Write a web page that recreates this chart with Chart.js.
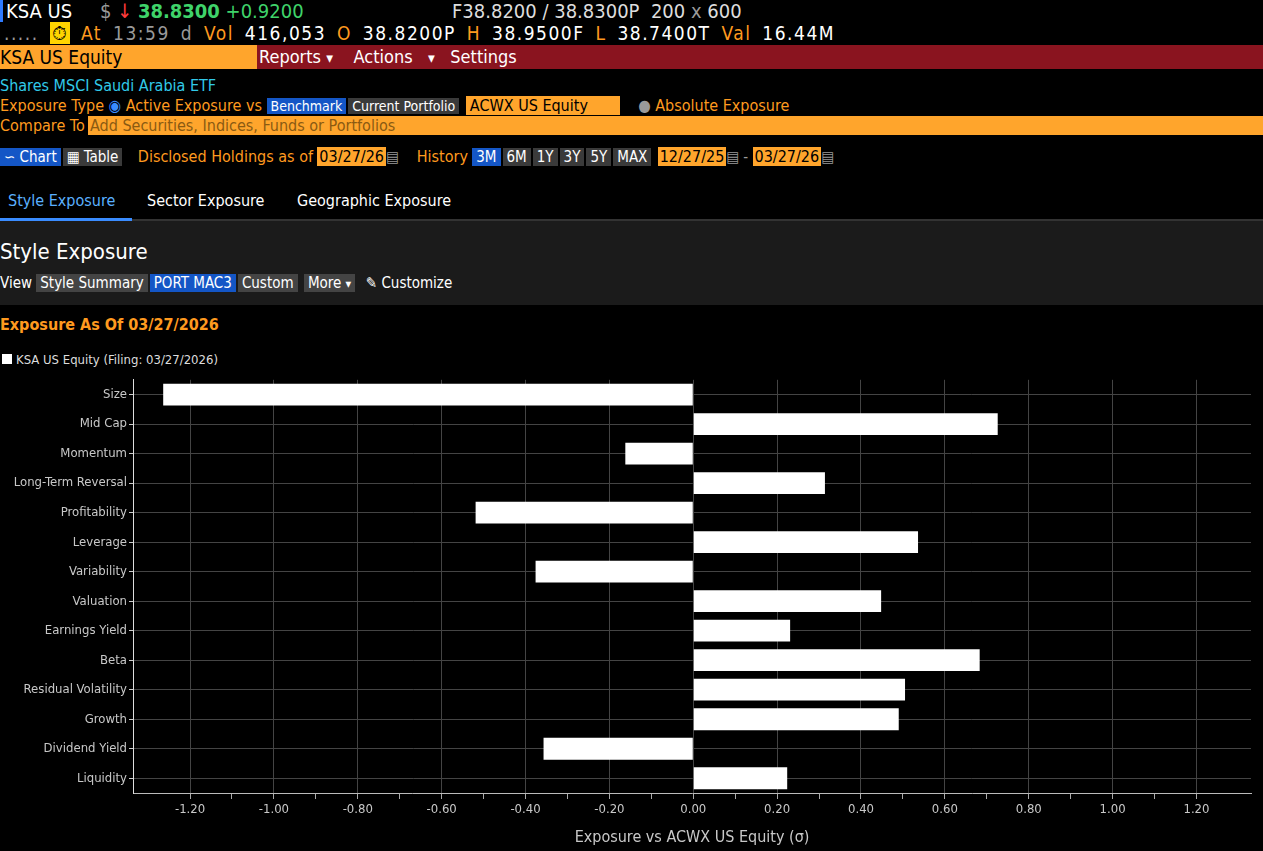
<!DOCTYPE html>
<html><head><meta charset="utf-8">
<script src="https://cdn.jsdelivr.net/npm/chart.js@4"></script>
<style>
body{margin:0;background:#000;width:1263px;height:851px;overflow:hidden;position:relative;font-family:"Liberation Sans Narrow","DejaVu Sans Condensed","Roboto",sans-serif;color:#fff}
.a{position:absolute;white-space:nowrap}
.o{color:#ff9a1f}.w{color:#fff}.g{color:#9a9a9a}.gr{color:#3fd36a}
.btn{display:inline-block;padding:0 4px;background:#3a3a3a;color:#fff;margin-right:2px}
.blue{background:#1456c6}
.ob{background:#ffa52c;color:#000}
</style></head><body>
<div class="a" style="left:0;top:0;width:3px;height:22px;background:#2f7bff"></div>
<div class="a" style="left:6px;top:0;font-size:20px;line-height:22px">KSA US <span class="g" style="margin-left:22px">$</span> <span style="color:#ff3b3b">&#8595;</span> <b class="gr">38.8300</b> <span class="gr">+0.9200</span></div>
<div class="a" style="left:452px;top:0;font-size:20px;line-height:22px;color:#ddd">F38.8200 / 38.8300P&nbsp; 200 <span class="g">x</span> 600</div>
<div class="a" style="left:4px;top:22px;font-size:19px;line-height:23px;letter-spacing:1.5px;word-spacing:4px"><span class="g">.....</span> <span style="background:#ffd400;color:#000;padding:0 2px">&#9201;</span> <span class="o">At</span> <span class="g">13:59 d</span> <span class="o">Vol</span> 416,053 <span class="o">O</span> 38.8200P <span class="o">H</span> 38.9500F <span class="o">L</span> 38.7400T <span class="o">Val</span> 16.44M</div>
<div class="a" style="left:0;top:45px;width:1263px;height:24px;background:#8a141f"></div>
<div class="a ob" style="left:0;top:45px;width:257px;height:24px;font-size:19px;line-height:24px;color:#000">KSA US Equity</div>
<div class="a" style="left:259px;top:45px;font-size:18px;line-height:24px">Reports <small>&#9662;</small>&nbsp;&nbsp;&nbsp;&nbsp;Actions &nbsp;&nbsp;<small>&#9662;</small>&nbsp;&nbsp;&nbsp;Settings</div>
<div class="a" style="left:0;top:76px;font-size:16px;color:#31c9e8">Shares MSCI Saudi Arabia ETF</div>
<div class="a o" style="left:0;top:96px;font-size:16px">Exposure Type <span style="color:#3a8cff">&#9673;</span> Active Exposure vs <span class="btn blue" style="font-size:14px">Benchmark</span><span class="btn" style="font-size:14px">Current Portfolio</span> <span class="ob" style="display:inline-block;width:150px;padding-left:4px">ACWX US Equity</span>&nbsp;&nbsp;&nbsp; <span class="g">&#9679;</span> Absolute Exposure</div>
<div class="a o" style="left:0;top:116px;font-size:16px">Compare To</div>
<div class="a" style="left:88px;top:116px;width:1175px;height:19px;background:#ffa52c;color:#8a5a12;font-size:16px;line-height:19px;padding-left:2px">Add Securities, Indices, Funds or Portfolios</div>
<div class="a" style="left:0;top:147px;font-size:15px"><span class="btn blue">&#8765; Chart</span><span class="btn">&#9638; Table</span> <span class="o" style="font-size:16px">&nbsp; Disclosed Holdings as of</span> <span class="ob" style="font-size:16px;padding:0 2px">03/27/26</span><span class="g">&#9636;</span> <span class="o" style="font-size:16px">&nbsp;&nbsp; History</span> <span class="btn blue">3M</span><span class="btn">6M</span><span class="btn">1Y</span><span class="btn">3Y</span><span class="btn">5Y</span><span class="btn">MAX</span> <span class="ob" style="font-size:16px;padding:0 2px">12/27/25</span><span class="g">&#9636;</span> <span class="g">-</span> <span class="ob" style="font-size:16px;padding:0 2px">03/27/26</span><span class="g">&#9636;</span></div>
<div class="a" style="left:8px;top:191px;font-size:16px;color:#5ab0ff">Style Exposure</div>
<div class="a" style="left:147px;top:191px;font-size:16px">Sector Exposure</div>
<div class="a" style="left:297px;top:191px;font-size:16px">Geographic Exposure</div>
<div class="a" style="left:0;top:218px;width:132px;height:3px;background:#3a8cff"></div>
<div class="a" style="left:132px;top:219px;width:1131px;height:2px;background:#333"></div>
<div class="a" style="left:0;top:221px;width:1263px;height:84px;background:#1b1b1b"></div>
<div class="a" style="left:0;top:239px;font-size:22px">Style Exposure</div>
<div class="a" style="left:0;top:274px;font-size:15px">View <span class="btn" style="background:#444">Style Summary</span><span class="btn blue">PORT MAC3</span><span class="btn" style="background:#444">Custom</span> <span class="btn" style="background:#444">More <small>&#9662;</small></span> &nbsp;&#9998; Customize</div>
<div class="a o" style="left:0;top:315px;font-size:16px;font-weight:bold">Exposure As Of 03/27/2026</div>
<div class="a" style="left:2px;top:352px;font-size:13px;color:#ddd"><span style="display:inline-block;width:10px;height:10px;background:#fff;margin-right:4px"></span>KSA US Equity (Filing: 03/27/2026)</div>
<div class="a" style="left:0;top:370px;width:1263px;height:481px"><canvas id="c"></canvas></div>
<script>
const categories = ['Size','Mid Cap','Momentum','Long-Term Reversal','Profitability','Leverage','Variability','Valuation','Earnings Yield','Beta','Residual Volatility','Growth','Dividend Yield','Liquidity'];
const exposure = [-1.264, 0.726, -0.162, 0.314, -0.519, 0.536, -0.376, 0.448, 0.231, 0.683, 0.505, 0.490, -0.357, 0.224];
const seriesName = 'KSA US Equity (Filing: 03/27/2026)';
const axisTitle = 'Exposure vs ACWX US Equity (\u03c3)';

const font = {family: '"Liberation Sans Narrow","DejaVu Sans Condensed",sans-serif', size: 13};
const isMajor = v => Math.abs(Math.round(v * 10)) % 2 === 0;

new Chart(document.getElementById('c'), {
    type: 'bar',
    data: {
        labels: categories,
        datasets: [{
            label: seriesName,
            data: exposure,
            backgroundColor: '#ffffff',
            borderWidth: 0,
            barPercentage: 0.74,
            categoryPercentage: 1
        }]
    },
    options: {
        indexAxis: 'y',
        responsive: true,
        maintainAspectRatio: false,
        animation: false,
        layout: { padding: { top: 8, right: 12 } },
        plugins: { legend: { display: false }, tooltip: { enabled: false } },
        scales: {
            x: {
                min: -1.336,
                max: 1.33,
                afterBuildTicks: s => { s.ticks = s.ticks.filter(t => Math.abs(t.value * 10 - Math.round(t.value * 10)) < 1e-6); },
                afterFit: s => { s.height = 58; },
                ticks: {
                    stepSize: 0.1,
                    color: '#c8c8c8',
                    font: font,
                    autoSkip: false,
                    maxRotation: 0,
                    callback: v => isMajor(v) ? v.toFixed(2) : ''
                },
                grid: {
                    color: c => c.tick && isMajor(c.tick.value) ? '#444' : 'rgba(0,0,0,0)',
                    tickColor: '#aaa',
                    tickLength: 6
                },
                border: { color: '#bbb', width: 1 },
                title: { display: true, text: axisTitle, color: '#c8c8c8', font: {family: font.family, size: 16}, padding: {top: 8} }
            },
            y: {
                afterFit: s => { s.width = 133; },
                ticks: { color: '#c8c8c8', font: font, padding: 2 },
                grid: { color: '#444', tickColor: '#ccc', tickLength: 4, offset: false },
                border: { color: '#ddd', width: 1 }
            }
        }
    }
});
</script>
</body></html>
